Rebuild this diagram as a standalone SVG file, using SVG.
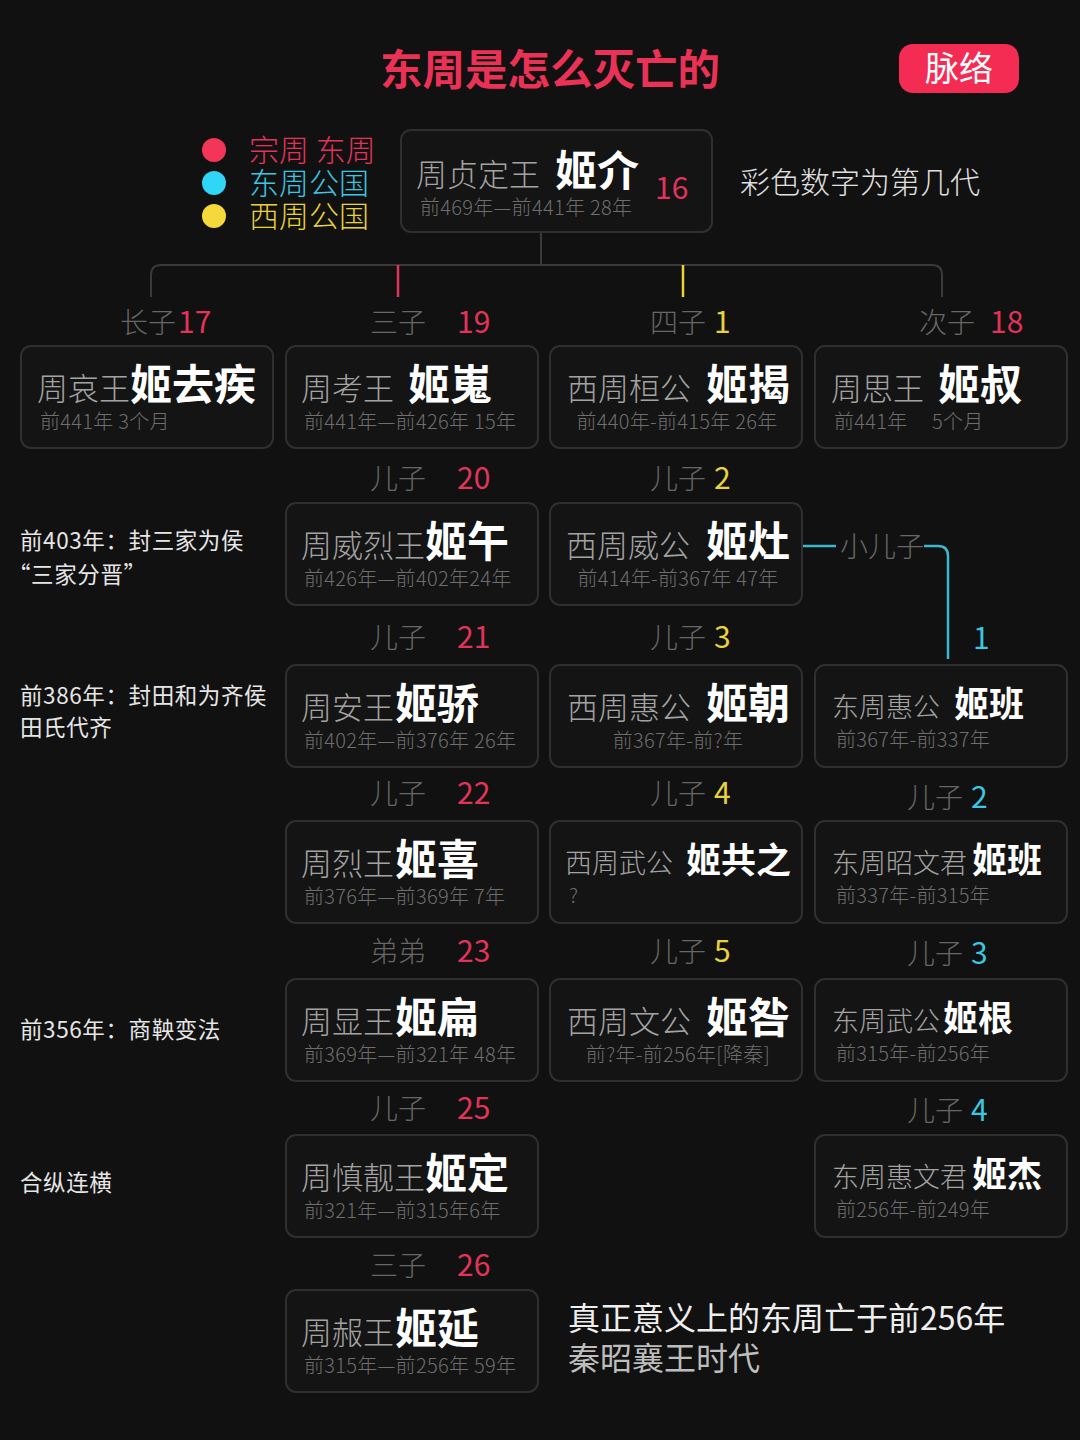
<svg xmlns="http://www.w3.org/2000/svg" width="1080" height="1440" viewBox="0 0 1080 1440">
<style>
text{font-family:"Noto Sans CJK SC","Noto Sans",sans-serif;}
.box{fill:#141414;stroke:#2f2f2f;stroke-width:2;}
.t{font-size:31px;fill:#a3a3a3;font-weight:300;}
.ts{font-size:27px;fill:#a3a3a3;font-weight:300;}
.n{font-size:42px;fill:#ffffff;font-weight:bold;}
.ns{font-size:35px;fill:#ffffff;font-weight:bold;}
.s{font-size:20px;fill:#6e6e6e;font-weight:300;letter-spacing:0.3px;}
.sc{font-size:20px;fill:#6e6e6e;font-weight:300;letter-spacing:0.3px;text-anchor:middle;}
.l{font-size:28px;fill:#666666;font-weight:300;}
.r{font-size:30px;fill:#e0345a;}
.y{font-size:30px;fill:#e8d23e;}
.c{font-size:30px;fill:#3cc6e0;}
.note{font-size:22.5px;fill:#e6e6e6;letter-spacing:0.6px;}
.gl{fill:none;stroke:#3a3a3a;stroke-width:2;}
</style>
<rect width="1080" height="1440" fill="#111111"/>

<text x="380" y="85" style="font-size:42.5px;font-weight:bold;fill:#ea3256">东周是怎么灭亡的</text>
<g id="pill">
<rect x="899" y="44" width="120" height="49" rx="14" fill="#f42c54"/>
<text x="959" y="81" style="font-size:34px;fill:#ffffff;text-anchor:middle">脉络</text>
</g>

<g id="legend">
<circle cx="214" cy="150" r="12" fill="#f23558"/>
<circle cx="214" cy="183" r="12" fill="#2fd6f5"/>
<circle cx="214" cy="216" r="12" fill="#f5d83a"/>
<text x="249" y="161" style="font-size:30px;fill:#e0345a;font-weight:300">宗周 东周</text>
<text x="249" y="194" style="font-size:30px;fill:#3cc6e0;font-weight:300">东周公国</text>
<text x="249" y="227" style="font-size:30px;fill:#e8d23e;font-weight:300">西周公国</text>
</g>

<text x="740" y="193" style="font-size:30px;fill:#e0e0e0;font-weight:300">彩色数字为第几代</text>

<g id="connectors">
<path class="gl" d="M541 232V265"/>
<path class="gl" d="M151 297V275Q151 265 161 265H932Q942 265 942 275V297"/>
<path d="M398 265V297" stroke="#e0345a" stroke-width="2.5"/>
<path d="M683 265V297" stroke="#e8d23e" stroke-width="2.5"/>
<path d="M803 546H836" stroke="#3ab8d0" stroke-width="2.5" fill="none"/>
<path d="M924 546H938Q948 546 948 556V659" stroke="#3ab8d0" stroke-width="2.5" fill="none"/>
<text x="840" y="557" class="l">小儿子</text>
</g>

<g id="n-top">
<rect class="box" x="401" y="130" width="311" height="102" rx="10"/>
<text y="186"><tspan class="t" x="416">周贞定王</tspan><tspan class="n" x="555">姬介</tspan></text>
<text x="655" y="199" class="r">16</text>
<text x="420" y="215" class="s">前469年—前441年 28年</text>
</g>

<!-- Row 1 -->
<g id="n-aiwang">
<text y="333"><tspan class="l" x="120">长子</tspan><tspan class="r" x="178">17</tspan></text>
<rect class="box" x="21" y="346" width="252" height="102" rx="10"/>
<text y="400"><tspan class="t" x="37">周哀王</tspan><tspan class="n" x="130">姬去疾</tspan></text>
<text x="40" y="429" class="s">前441年 3个月</text>
</g>
<g id="n-kaowang">
<text y="333"><tspan class="l" x="370">三子</tspan><tspan class="r" x="457">19</tspan></text>
<rect class="box" x="286" y="346" width="252" height="102" rx="10"/>
<text y="400"><tspan class="t" x="301">周考王</tspan><tspan class="n" x="408">姬嵬</tspan></text>
<text x="304" y="429" class="s">前441年—前426年 15年</text>
</g>
<g id="n-huangong">
<text y="333"><tspan class="l" x="650">四子</tspan><tspan class="y" x="714">1</tspan></text>
<rect class="box" x="550" y="346" width="252" height="102" rx="10"/>
<text y="400"><tspan class="t" x="567">西周桓公</tspan><tspan class="n" x="706">姬揭</tspan></text>
<text x="677" y="429" class="sc">前440年-前415年 26年</text>
</g>
<g id="n-siwang">
<text y="333"><tspan class="l" x="919">次子</tspan><tspan class="r" x="990">18</tspan></text>
<rect class="box" x="815" y="346" width="252" height="102" rx="10"/>
<text y="400"><tspan class="t" x="831">周思王</tspan><tspan class="n" x="938">姬叔</tspan></text>
<text x="834" y="429" class="s">前441年<tspan x="932">5个月</tspan></text>
</g>

<!-- Row 2 -->
<g id="n-weiliewang">
<text y="489"><tspan class="l" x="370">儿子</tspan><tspan class="r" x="457">20</tspan></text>
<rect class="box" x="286" y="503" width="252" height="102" rx="10"/>
<text y="557"><tspan class="t" x="301">周威烈王</tspan><tspan class="n" x="425">姬午</tspan></text>
<text x="304" y="586" class="s">前426年—前402年24年</text>
</g>
<g id="n-weigong">
<text y="489"><tspan class="l" x="650">儿子</tspan><tspan class="y" x="714">2</tspan></text>
<rect class="box" x="550" y="503" width="252" height="102" rx="10"/>
<text y="557"><tspan class="t" x="566">西周威公</tspan><tspan class="n" x="706">姬灶</tspan></text>
<text x="678" y="586" class="sc">前414年-前367年 47年</text>
</g>

<!-- Row 3 -->
<g id="n-anwang">
<text y="648"><tspan class="l" x="370">儿子</tspan><tspan class="r" x="457">21</tspan></text>
<rect class="box" x="286" y="665" width="252" height="102" rx="10"/>
<text y="719"><tspan class="t" x="301">周安王</tspan><tspan class="n" x="395">姬骄</tspan></text>
<text x="304" y="748" class="s">前402年—前376年 26年</text>
</g>
<g id="n-huigong-w">
<text y="648"><tspan class="l" x="650">儿子</tspan><tspan class="y" x="714">3</tspan></text>
<rect class="box" x="550" y="665" width="252" height="102" rx="10"/>
<text y="719"><tspan class="t" x="567">西周惠公</tspan><tspan class="n" x="706">姬朝</tspan></text>
<text x="678" y="748" class="sc">前367年-前?年</text>
</g>
<g id="n-huigong-e">
<text x="973" y="649" class="c">1</text>
<rect class="box" x="815" y="665" width="252" height="102" rx="10"/>
<text y="717"><tspan class="ts" x="832">东周惠公</tspan><tspan class="ns" x="954">姬班</tspan></text>
<text x="836" y="747" class="s">前367年-前337年</text>
</g>

<!-- Row 4 -->
<g id="n-liewang">
<text y="804"><tspan class="l" x="370">儿子</tspan><tspan class="r" x="457">22</tspan></text>
<rect class="box" x="286" y="821" width="252" height="102" rx="10"/>
<text y="875"><tspan class="t" x="301">周烈王</tspan><tspan class="n" x="395">姬喜</tspan></text>
<text x="304" y="904" class="s">前376年—前369年 7年</text>
</g>
<g id="n-wugong-w">
<text y="804"><tspan class="l" x="650">儿子</tspan><tspan class="y" x="714">4</tspan></text>
<rect class="box" x="550" y="821" width="252" height="102" rx="10"/>
<text y="873"><tspan class="ts" x="565">西周武公</tspan><tspan class="ns" x="686">姬共之</tspan></text>
<text x="569" y="903" class="s">?</text>
</g>
<g id="n-zhaowenjun">
<text y="808"><tspan class="l" x="907">儿子</tspan><tspan class="c" x="971">2</tspan></text>
<rect class="box" x="815" y="821" width="252" height="102" rx="10"/>
<text y="873"><tspan class="ts" x="832">东周昭文君</tspan><tspan class="ns" x="972">姬班</tspan></text>
<text x="836" y="903" class="s">前337年-前315年</text>
</g>

<!-- Row 5 -->
<g id="n-xianwang">
<text y="962"><tspan class="l" x="370">弟弟</tspan><tspan class="r" x="457">23</tspan></text>
<rect class="box" x="286" y="979" width="252" height="102" rx="10"/>
<text y="1033"><tspan class="t" x="301">周显王</tspan><tspan class="n" x="395">姬扁</tspan></text>
<text x="304" y="1062" class="s">前369年—前321年 48年</text>
</g>
<g id="n-wengong">
<text y="962"><tspan class="l" x="650">儿子</tspan><tspan class="y" x="714">5</tspan></text>
<rect class="box" x="550" y="979" width="252" height="102" rx="10"/>
<text y="1033"><tspan class="t" x="567">西周文公</tspan><tspan class="n" x="706">姬咎</tspan></text>
<text x="678" y="1062" class="sc">前?年-前256年[降秦]</text>
</g>
<g id="n-wugong-e">
<text y="964"><tspan class="l" x="907">儿子</tspan><tspan class="c" x="971">3</tspan></text>
<rect class="box" x="815" y="979" width="252" height="102" rx="10"/>
<text y="1031"><tspan class="ts" x="832">东周武公</tspan><tspan class="ns" x="943">姬根</tspan></text>
<text x="836" y="1061" class="s">前315年-前256年</text>
</g>

<!-- Row 6 -->
<g id="n-shenjingwang">
<text y="1119"><tspan class="l" x="370">儿子</tspan><tspan class="r" x="457">25</tspan></text>
<rect class="box" x="286" y="1135" width="252" height="102" rx="10"/>
<text y="1189"><tspan class="t" x="301">周慎靓王</tspan><tspan class="n" x="425">姬定</tspan></text>
<text x="304" y="1218" class="s">前321年—前315年6年</text>
</g>
<g id="n-huiwenjun">
<text y="1121"><tspan class="l" x="907">儿子</tspan><tspan class="c" x="971">4</tspan></text>
<rect class="box" x="815" y="1135" width="252" height="102" rx="10"/>
<text y="1187"><tspan class="ts" x="832">东周惠文君</tspan><tspan class="ns" x="972">姬杰</tspan></text>
<text x="836" y="1217" class="s">前256年-前249年</text>
</g>

<!-- Row 7 -->
<g id="n-nanwang">
<text y="1276"><tspan class="l" x="370">三子</tspan><tspan class="r" x="457">26</tspan></text>
<rect class="box" x="286" y="1290" width="252" height="102" rx="10"/>
<text y="1344"><tspan class="t" x="301">周赧王</tspan><tspan class="n" x="395">姬延</tspan></text>
<text x="304" y="1373" class="s">前315年—前256年 59年</text>
</g>

<g id="notes">
<text x="20" y="549" class="note">前403年：封三家为侯</text>
<text x="8" y="583" class="note">“三家分晋”</text>
<text x="20" y="704" class="note">前386年：封田和为齐侯</text>
<text x="20" y="736" class="note">田氏代齐</text>
<text x="20" y="1038" class="note">前356年：商鞅变法</text>
<text x="20" y="1191" class="note">合纵连横</text>
<text x="568" y="1330" style="font-size:32px;fill:#eeeeee">真正意义上的东周亡于前256年</text>
<text x="568" y="1370" style="font-size:32px;fill:#bdbdbd">秦昭襄王时代</text>
</g>
</svg>
